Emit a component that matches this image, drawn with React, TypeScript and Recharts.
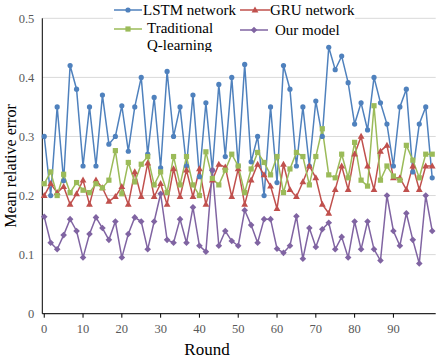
import { LineChart, Line, XAxis, YAxis, CartesianGrid, Label } from "recharts";

// values, one per plotted round (61 points)
const lstm = [
  0.3, 0.2, 0.35, 0.225, 0.42, 0.38, 0.25, 0.35, 0.25, 0.37, 0.287, 0.3, 0.352, 0.275, 0.35, 0.4,
  0.27, 0.366, 0.247, 0.41, 0.3, 0.35, 0.25, 0.37, 0.232, 0.357, 0.243, 0.388, 0.266, 0.4, 0.25,
  0.422, 0.257, 0.3, 0.2, 0.35, 0.222, 0.42, 0.38, 0.25, 0.35, 0.25, 0.36, 0.3, 0.451, 0.413,
  0.436, 0.391, 0.321, 0.357, 0.311, 0.4, 0.357, 0.321, 0.25, 0.35, 0.38, 0.24, 0.321, 0.35, 0.23
];
const gru = [
  0.2, 0.22, 0.205, 0.215, 0.185, 0.203, 0.226, 0.185, 0.226, 0.213, 0.19, 0.198, 0.215, 0.185,
  0.24, 0.198, 0.255, 0.198, 0.22, 0.185, 0.245, 0.198, 0.243, 0.198, 0.245, 0.185, 0.226, 0.253,
  0.248, 0.198, 0.245, 0.185, 0.226, 0.253, 0.235, 0.216, 0.178, 0.253, 0.21, 0.198, 0.223, 0.25,
  0.23, 0.185, 0.17, 0.21, 0.25, 0.21, 0.27, 0.3, 0.25, 0.21, 0.275, 0.285, 0.23, 0.23, 0.21,
  0.25, 0.21, 0.25, 0.25
];
const qLearning = [
  0.22, 0.24, 0.2, 0.236, 0.205, 0.222, 0.209, 0.205, 0.22, 0.213, 0.226, 0.276, 0.203, 0.256,
  0.223, 0.253, 0.266, 0.218, 0.24, 0.205, 0.266, 0.218, 0.266, 0.218, 0.2, 0.274, 0.229, 0.218,
  0.243, 0.27, 0.25, 0.205, 0.245, 0.273, 0.256, 0.235, 0.266, 0.205, 0.245, 0.273, 0.266, 0.218,
  0.266, 0.313, 0.235, 0.23, 0.27, 0.23, 0.29, 0.226, 0.216, 0.352, 0.226, 0.25, 0.233, 0.226,
  0.285, 0.26, 0.23, 0.27, 0.27
];
const ourModel = [
  0.164, 0.12, 0.109, 0.133, 0.16, 0.14, 0.095, 0.135, 0.163, 0.145, 0.125, 0.156, 0.095, 0.135,
  0.163, 0.156, 0.109, 0.156, 0.203, 0.125, 0.12, 0.16, 0.12, 0.18, 0.115, 0.105, 0.243, 0.115,
  0.14, 0.123, 0.115, 0.175, 0.15, 0.12, 0.16, 0.16, 0.11, 0.103, 0.115, 0.165, 0.093, 0.145,
  0.113, 0.143, 0.154, 0.109, 0.13, 0.095, 0.156, 0.109, 0.156, 0.109, 0.09, 0.2, 0.14, 0.115,
  0.17, 0.125, 0.085, 0.2, 0.14
];
const xTicks = [0, 10, 20, 30, 40, 50, 60, 70, 80, 90];
const yTicks = [0, 0.1, 0.2, 0.3, 0.4, 0.5];

// 61 points spread evenly over rounds 0..100
const data = lstm.map((v, i) => ({
  round: (i * 100) / 60,
  lstm: v,
  gru: gru[i],
  q: qLearning[i],
  ours: ourModel[i]
}));

const BLUE = "#4F81BD";
const RED = "#C0504D";
const GREEN = "#9BBB59";
const PURPLE = "#8064A2";
const FONT = "'Liberation Serif', 'Times New Roman', serif";

function circleDot(p: any) {
  return <circle key={p.index} cx={p.cx} cy={p.cy} r={2.6} fill={BLUE} />;
}
function triangleDot(p: any) {
  const { cx, cy } = p;
  return (
    <path key={p.index} d={`M${cx},${cy - 3.6}L${cx + 3.4},${cy + 2.4}L${cx - 3.4},${cy + 2.4}Z`} fill={RED} />
  );
}
function squareDot(p: any) {
  return <rect key={p.index} x={p.cx - 2.6} y={p.cy - 2.6} width={5.2} height={5.2} fill={GREEN} />;
}
function diamondDot(p: any) {
  const { cx, cy } = p;
  return (
    <path key={p.index} d={`M${cx},${cy - 3.3}L${cx + 3.3},${cy}L${cx},${cy + 3.3}L${cx - 3.3},${cy}Z`} fill={PURPLE} />
  );
}

// legend drawn on top of the plot, white behind the entries only
function LegendBox() {
  const txt = { fontFamily: FONT, fontSize: 15, fill: "#000" };
  return (
    <svg width={242} height={52} style={{ display: "block" }}>
      <rect x={0} y={0} width={242} height={38} fill="#fff" />
      <rect x={0} y={38} width={100} height={14} fill="#fff" />
      <line x1={1} x2={29} y1={10} y2={10} stroke={BLUE} strokeWidth={1.5} />
      {circleDot({ cx: 15, cy: 10, index: "a" })}
      <text x={30} y={15} {...txt}>LSTM network</text>

      <line x1={127} x2={157} y1={10} y2={10} stroke={RED} strokeWidth={1.5} />
      {triangleDot({ cx: 142, cy: 10, index: "b" })}
      <text x={157} y={15} {...txt}>GRU network</text>

      <line x1={1} x2={29} y1={29} y2={29} stroke={GREEN} strokeWidth={1.5} />
      {squareDot({ cx: 15, cy: 29, index: "c" })}
      <text x={34} y={33} {...txt}>Traditional</text>
      <text x={34} y={50} {...txt}>Q-learning</text>

      <line x1={127} x2={155} y1={30} y2={30} stroke={PURPLE} strokeWidth={1.5} />
      {diamondDot({ cx: 141, cy: 30, index: "d" })}
      <text x={162} y={35} {...txt}>Our model</text>
    </svg>
  );
}

export default function App() {
  const tick = { fill: "#595959", fontSize: 12.5, fontFamily: FONT };
  return (
    <div style={{ position: "absolute", left: 0, top: 0, background: "#fff", fontFamily: FONT }}>
      <style>{`.recharts-text { font-family: ${FONT}; }`}</style>
      <LineChart
        width={445}
        height={360}
        data={data}
        margin={{ top: 18.3, right: 9.3, bottom: 0, left: 0 }}
      >
        <CartesianGrid vertical={false} stroke="#d9d9d9" strokeWidth={1} />
        <XAxis
          dataKey="round"
          type="number"
          domain={[-0.5, 100.9]}
          ticks={xTicks}
          interval={0}
          height={46.3}
          tick={tick}
          tickSize={4}
          tickMargin={6}
          axisLine={{ stroke: "#000", strokeWidth: 1 }}
          tickLine={{ stroke: "#000" }}
        >
          <Label
            value="Round"
            position="insideBottom"
            offset={5}
            dx={-32}
            style={{ fontFamily: FONT, fontSize: 17, fill: "#000" }}
          />
        </XAxis>
        <YAxis
          type="number"
          domain={[0, 0.5]}
          ticks={yTicks}
          width={42.3}
          tick={tick}
          tickLine={false}
          tickSize={0}
          tickMargin={8}
          axisLine={{ stroke: "#000", strokeWidth: 1 }}
        >
          <Label
            value="Mean relative error"
            angle={-90}
            position="insideLeft"
            offset={10}
            style={{ textAnchor: "middle", fontFamily: FONT, fontSize: 16, fill: "#000" }}
          />
        </YAxis>
        <Line dataKey="lstm" stroke={BLUE} strokeWidth={1.5} dot={circleDot} activeDot={false} isAnimationActive={false} />
        <Line dataKey="gru" stroke={RED} strokeWidth={1.5} dot={triangleDot} activeDot={false} isAnimationActive={false} />
        <Line dataKey="q" stroke={GREEN} strokeWidth={1.5} dot={squareDot} activeDot={false} isAnimationActive={false} />
        <Line dataKey="ours" stroke={PURPLE} strokeWidth={1.5} dot={diamondDot} activeDot={false} isAnimationActive={false} />
      </LineChart>
      <div style={{ position: "absolute", top: 0, left: 113 }}>
        <LegendBox />
      </div>
    </div>
  );
}
